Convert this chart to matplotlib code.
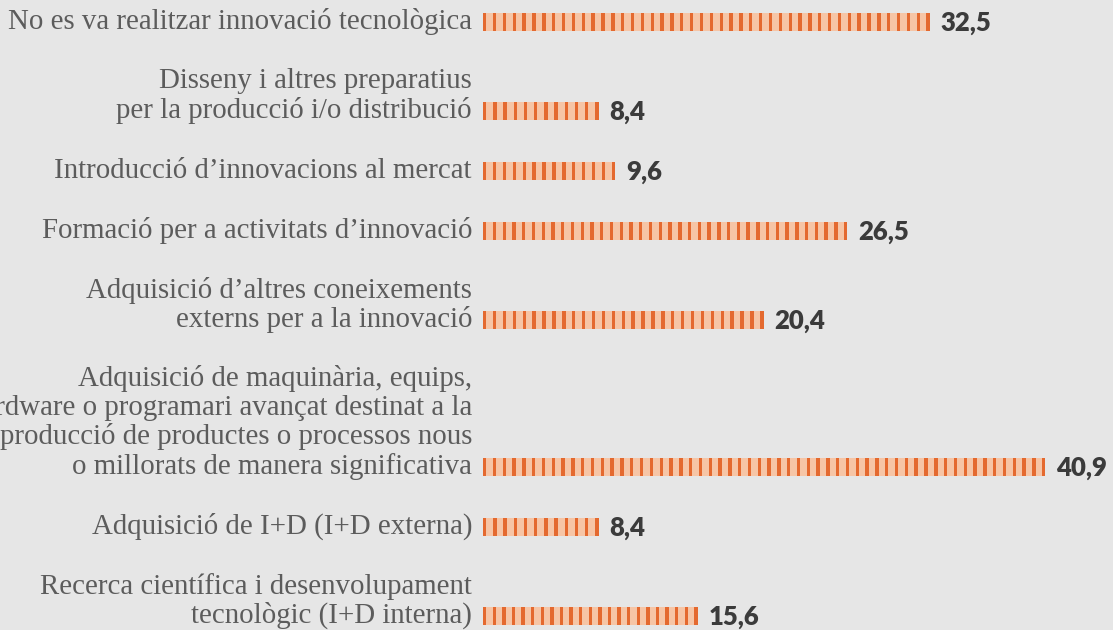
import numpy as np
import matplotlib
matplotlib.use("Agg")
import matplotlib.pyplot as plt

# ---- data ----
categories = [
    "No es va realitzar innovació tecnològica",
    "Disseny i altres preparatius\nper la producció i/o distribució",
    "Introducció d’innovacions al mercat",
    "Formació per a activitats d’innovació",
    "Adquisició d’altres coneixements\nexterns per a la innovació",
    "Adquisició de maquinària, equips,\nhardware o programari avançat destinat a la\nproducció de productes o processos nous\no millorats de manera significativa",
    "Adquisició de I+D (I+D externa)",
    "Recerca científica i desenvolupament\ntecnològic (I+D interna)",
]
values = [32.5, 8.4, 9.6, 26.5, 20.4, 40.9, 8.4, 15.6]
value_labels = ["32,5", "8,4", "9,6", "26,5", "20,4", "40,9", "8,4", "15,6"]

# ---- style ----
BG = "#e6e6e6"
LIGHT = "#f6c5a6"
DARK = "#e4692f"
TEXT = "#5c5c5c"
VAL = "#3b3b3b"

W, H = 1113, 630
fig = plt.figure(figsize=(W / 100, H / 100), dpi=100, facecolor=BG)

bar_left_px = 483
px_per_unit = 13.75
ax = fig.add_axes([bar_left_px / W, 0, 1 - bar_left_px / W, 1])
ax.set_facecolor(BG)
ax.set_xlim(0, (W - bar_left_px) / px_per_unit)
ax.set_ylim(H, 0)  # y in pixel rows (layout), inverted
ax.axis("off")

# layout of rows: vertical slot depends on number of text lines
nlines = [c.count("\n") + 1 for c in categories]
line_h = 29.5
centers = []
y = 22
for i, n in enumerate(nlines):
    if i > 0:
        y += 60 + (n - 1) * 29
    centers.append(y)

bar_h = 18
period = 9.8 / px_per_unit
sw = 3.4 / px_per_unit

for c, v, lab, cy, n in zip(categories, values, value_labels, centers, nlines):
    ax.barh(cy, v, height=bar_h, left=0, color=LIGHT, linewidth=0)
    k = int(round((v - sw) / period)) + 1
    pos = np.linspace(0, v - sw, k)
    ax.barh(np.full(len(pos), cy), sw, height=bar_h, left=pos, color=DARK,
            linewidth=0)
    ax.text(v + 11 / px_per_unit, cy + 8.5, lab, ha="left", va="baseline",
            fontsize=18.5, fontweight="heavy", family="Lato", color=VAL)
    lines = c.split("\n")
    for j, line in enumerate(lines):
        ly = cy + 7 - (n - 1 - j) * line_h
        ax.text(-11 / px_per_unit, ly, line, ha="right", va="baseline",
                fontsize=20.8, family="Liberation Serif", color=TEXT, clip_on=False)

fig.savefig("out.png", dpi=100, facecolor=BG)
